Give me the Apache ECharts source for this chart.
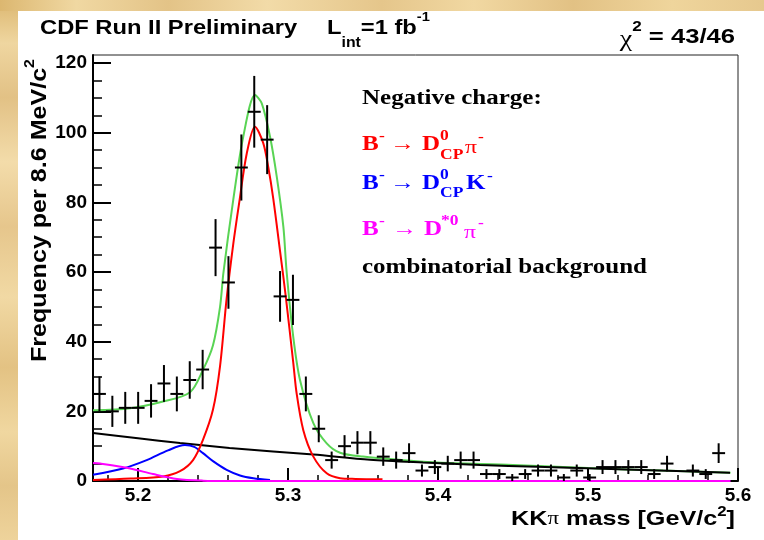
<!DOCTYPE html>
<html>
<head>
<meta charset="utf-8">
<script src="https://cdn.jsdelivr.net/npm/echarts@6/dist/echarts.min.js"></script>
<style>
  html, body { margin: 0; padding: 0; background: #ffffff; }
  #chart { width: 764px; height: 540px; }
</style>
</head>
<body>
<div id="chart"></div>
<script>
// Histogram binning: 50 bins of 8.6 MeV starting at 5.17 GeV
const BIN_START = 5.17;
const BIN_WIDTH = 0.0086;

// Candidates per bin
const counts = [25, 20, 21, 21, 23, 28, 25, 29, 32, 67,
                57, 90, 106, 98, 53, 52, 25, 15, 6, 10,
                11, 11, 7, 6, 8, 3, 4, 5, 6, 6,
                2, 2, 1, 2, 3, 3, 1, 3, 1, 4,
                4, 4, 4, 2, 5, 0, 3, 2, 8, 0];

// Fit components, sampled along the mass axis
const sigPiMass = [5.170, 5.195, 5.2167, 5.228, 5.2367, 5.2433, 5.250, 5.2547, 5.259, 5.2635,
                   5.2675, 5.2725, 5.278, 5.2835, 5.2869, 5.2902, 5.2947, 5.2985, 5.3035, 5.3058,
                   5.3102, 5.3169, 5.3258, 5.3347, 5.345, 5.363];
const sigPiFreq = [0.3, 0.7, 1.3, 2.8, 6.0, 11.8, 20.5, 33, 52, 68,
                   80, 94, 101.7, 97, 90, 81, 66, 53, 34, 25,
                   14.6, 7, 2.2, 0.8, 0.6, 0.5];

const sigKMass = [5.170, 5.190, 5.2058, 5.220, 5.2313, 5.2375, 5.2433, 5.250, 5.2591, 5.268, 5.2769, 5.288];
const sigKFreq = [1.8, 3.6, 6.0, 8.8, 10.3, 9.8, 8.0, 5.7, 3.2, 1.6, 0.8, 0.3];

const dstarMass = [5.170, 5.1747, 5.1947, 5.210, 5.226, 5.2433, 5.260, 5.595];
const dstarFreq = [5.2, 5.0, 3.6, 2.0, 0.6, 0.1, 0, 0];

const combMass = [5.170, 5.200, 5.228, 5.261, 5.290, 5.317, 5.3547, 5.390, 5.428, 5.466, 5.510, 5.5413, 5.5947];
const combFreq = [13.8, 12.3, 10.9, 9.5, 8.5, 7.6, 6.1, 5.3, 4.6, 4.1, 3.5, 3.1, 2.4];

const totalMass = [5.170, 5.1947, 5.2167, 5.2347, 5.2433, 5.250, 5.2547, 5.2569, 5.2635, 5.2702,
                   5.278, 5.2825, 5.288, 5.2925, 5.2969, 5.2991, 5.3035, 5.308, 5.3169, 5.3258,
                   5.3347, 5.350, 5.380, 5.400, 5.450, 5.500, 5.550, 5.595];
const totalFreq = [20.3, 20.9, 22.8, 25.5, 31.9, 39, 50, 59.6, 80.7, 98.9,
                   110.8, 108.4, 98.9, 87.4, 73, 60, 41.4, 29, 16.6, 10.8,
                   8.1, 7.0, 5.9, 5.3, 4.6, 3.7, 3.0, 2.4];

// Axis tick labels
const massTicks = [5.2, 5.3, 5.4, 5.5, 5.6];
const freqTicks = [0, 20, 40, 60, 80, 100, 120];

const MASS_MIN = 5.17, MASS_MAX = 5.6;
const FREQ_MIN = 0, FREQ_MAX = 122.3;

const massMinor = [];
for (let k = 0; k <= 21; k++) massMinor.push(+(5.18 + 0.02 * k).toFixed(2));
const freqMinor = [];
for (let k = 0; k <= 24; k++) freqMinor.push(5 * k);

const zip = (xs, ys) => xs.map((x, i) => [x, ys[i]]);

const binPoints = counts
  .map((n, i) => [BIN_START + (i + 0.5) * BIN_WIDTH, n, Math.sqrt(n)])
  .filter(p => p[1] > 0);

const SANS = '"Liberation Sans", Arial, Helvetica, sans-serif';
const SERIF = '"Liberation Serif", "Times New Roman", serif';

function curve(name, xs, ys, color, z) {
  return {
    name, type: 'line', data: zip(xs, ys), xAxisIndex: 0, yAxisIndex: 0,
    showSymbol: false, symbol: 'none', smooth: 0.3, clip: false, z,
    lineStyle: { color, width: 2 }, silent: true, animation: false
  };
}

const chart = echarts.init(document.getElementById('chart'), null, { renderer: 'canvas', width: 764, height: 540 });

const axisCommon = {
  type: 'value', splitLine: { show: false }, animation: false
};

const tickLabelStyle = { color: '#000', fontFamily: SANS, fontWeight: 'bold', fontSize: 19 };

// Parchment strips along the top and left edges
const parchmentV = new echarts.graphic.LinearGradient(0, 0, 0, 1, [
  { offset: 0.00, color: '#dcb770' }, { offset: 0.08, color: '#efd6a0' },
  { offset: 0.18, color: '#e2c185' }, { offset: 0.30, color: '#f3dcaa' },
  { offset: 0.42, color: '#e6c68c' }, { offset: 0.55, color: '#f1d9a4' },
  { offset: 0.68, color: '#e3c283' }, { offset: 0.80, color: '#f0d7a0' },
  { offset: 0.90, color: '#e4c589' }, { offset: 1.00, color: '#eed39b' }
]);
const parchmentH = new echarts.graphic.LinearGradient(0, 0, 1, 0, [
  { offset: 0.00, color: '#dcb770' }, { offset: 0.10, color: '#f0d8a2' },
  { offset: 0.22, color: '#e3c387' }, { offset: 0.35, color: '#f2dba8' },
  { offset: 0.50, color: '#e5c68b' }, { offset: 0.62, color: '#f1d8a2' },
  { offset: 0.75, color: '#e2c184' }, { offset: 0.88, color: '#efd59c' },
  { offset: 1.00, color: '#e6c88e' }
]);

const sup = (size, drop, family) => ({ fontSize: size, fontFamily: family || SANS, fontWeight: 'bold', verticalAlign: 'top', padding: [drop || 0, 0, 0, 0] });
const sub = (size, family) => ({ fontSize: size, fontFamily: family || SANS, fontWeight: 'bold', verticalAlign: 'bottom' });

function legendPiece(text, x, y, color, size, opts) {
  opts = opts || {};
  return {
    type: 'text', x, y, scaleX: 1.25, z: 10,
    style: {
      text, fill: color, align: 'left', verticalAlign: 'middle',
      font: (opts.weight || 'bold') + ' ' + size + 'px ' + (opts.family || SERIF)
    }
  };
}

const graphics = [
  { type: 'rect', shape: { x: 0, y: 0, width: 18, height: 540 }, style: { fill: parchmentV }, z: -10, silent: true },
  { type: 'rect', shape: { x: 0, y: 0, width: 764, height: 11 }, style: { fill: parchmentH }, z: -10, silent: true },

  // Header
  {
    type: 'text', x: 40, y: 28, scaleX: 1.13, z: 10,
    style: { text: 'CDF Run II Preliminary', fill: '#000', align: 'left', verticalAlign: 'middle', font: 'bold 21px ' + SANS }
  },
  {
    type: 'text', x: 327, y: 28, scaleX: 1.13, z: 10,
    style: {
      text: '{m|L}{s|int}{m|=1 fb}{p|-1}', align: 'left', verticalAlign: 'middle', fill: '#000',
      rich: {
        m: { fontSize: 21, fontFamily: SANS, fontWeight: 'bold', lineHeight: 44 },
        s: sub(14),
        p: sup(13, 5)
      }
    }
  },
  {
    type: 'text', x: 735, y: 37, scaleX: 1.22, z: 10,
    style: {
      text: '{g|\u03c7}{p|2}{m| = 43/46}', align: 'right', verticalAlign: 'middle', fill: '#000',
      rich: {
        m: { fontSize: 21, fontFamily: SANS, fontWeight: 'bold', lineHeight: 34 },
        g: { fontSize: 23, fontFamily: SERIF, lineHeight: 34, padding: [5, 0, 0, 0] },
        p: sup(14)
      }
    }
  },

  // Axis titles
  {
    type: 'text', x: 40, y: 362, rotation: Math.PI / 2, scaleX: 1.14, z: 10,
    style: {
      text: '{m|Frequency per 8.6 MeV/c}{p|2}', align: 'left', verticalAlign: 'middle', fill: '#000',
      rich: {
        m: { fontSize: 22, fontFamily: SANS, fontWeight: 'bold', lineHeight: 34 },
        p: sup(14)
      }
    }
  },
  {
    type: 'text', x: 735, y: 519, scaleX: 1.2, z: 10,
    style: {
      text: '{m|KK}{g|\u03c0}{m| mass [GeV/c}{p|2}{m|]}', align: 'right', verticalAlign: 'middle', fill: '#000',
      rich: {
        m: { fontSize: 21, fontFamily: SANS, fontWeight: 'bold', lineHeight: 34 },
        g: { fontSize: 19, fontFamily: SERIF, lineHeight: 34 },
        p: sup(14, 3)
      }
    }
  },

  // Legend block
  legendPiece('Negative charge:', 362, 99, '#000', 20),

  legendPiece('B', 362, 145, '#ff0000', 20),
  legendPiece('-', 379, 136, '#ff0000', 14),
  legendPiece('\u2192', 390, 145, '#ff0000', 20, { weight: 'normal' }),
  legendPiece('D', 422, 145, '#ff0000', 20),
  legendPiece('0', 440, 136, '#ff0000', 14),
  legendPiece('CP', 440, 155, '#ff0000', 14),
  legendPiece('\u03c0', 465, 148, '#ff0000', 19, { weight: 'normal' }),
  legendPiece('-', 478, 137, '#ff0000', 14),

  legendPiece('B', 362, 184, '#0000ff', 20),
  legendPiece('-', 379, 175, '#0000ff', 14),
  legendPiece('\u2192', 390, 184, '#0000ff', 20, { weight: 'normal' }),
  legendPiece('D', 422, 184, '#0000ff', 20),
  legendPiece('0', 440, 175, '#0000ff', 14),
  legendPiece('CP', 440, 193, '#0000ff', 14),
  legendPiece('K', 466, 184, '#0000ff', 20),
  legendPiece('-', 487, 176, '#0000ff', 14),

  legendPiece('B', 362, 230, '#ff00ff', 20),
  legendPiece('-', 379, 221, '#ff00ff', 14),
  legendPiece('\u2192', 392, 230, '#ff00ff', 20, { weight: 'normal' }),
  legendPiece('D', 424, 230, '#ff00ff', 20),
  legendPiece('*0', 441, 221, '#ff00ff', 14),
  legendPiece('\u03c0', 464, 233, '#ff00ff', 19, { weight: 'normal' }),
  legendPiece('-', 478, 223, '#ff00ff', 14),

  legendPiece('combinatorial background', 362, 268, '#000', 20)
];

const option = {
  backgroundColor: '#ffffff',
  animation: false,
  grid: {
    left: 93, right: 26, top: 55, bottom: 59,
    show: true, borderColor: '#222', borderWidth: 1, backgroundColor: 'transparent'
  },
  xAxis: [
    Object.assign({}, axisCommon, {
      min: MASS_MIN, max: MASS_MAX, position: 'bottom',
      axisLine: { show: true, onZero: false, lineStyle: { color: '#000', width: 2 } },
      axisTick: { show: true, inside: true, length: 13, customValues: massTicks, lineStyle: { color: '#000', width: 2 } },
      axisLabel: Object.assign({ show: true, margin: 5, customValues: massTicks, formatter: v => v.toFixed(1) }, tickLabelStyle)
    }),
    Object.assign({}, axisCommon, {
      min: MASS_MIN, max: MASS_MAX, position: 'bottom',
      axisLine: { show: false },
      axisTick: { show: true, inside: true, length: 6, customValues: massMinor, lineStyle: { color: '#000', width: 1.5 } },
      axisLabel: { show: false }
    })
  ],
  yAxis: [
    Object.assign({}, axisCommon, {
      min: FREQ_MIN, max: FREQ_MAX, position: 'left',
      axisLine: { show: true, onZero: false, lineStyle: { color: '#000', width: 2 } },
      axisTick: { show: true, inside: true, length: 18, customValues: freqTicks, lineStyle: { color: '#000', width: 2 } },
      axisLabel: Object.assign({ show: true, margin: 6, customValues: freqTicks, formatter: v => String(v) }, tickLabelStyle)
    }),
    Object.assign({}, axisCommon, {
      min: FREQ_MIN, max: FREQ_MAX, position: 'left',
      axisLine: { show: false },
      axisTick: { show: true, inside: true, length: 9, customValues: freqMinor, lineStyle: { color: '#000', width: 1.5 } },
      axisLabel: { show: false }
    })
  ],
  series: [
    curve('total', totalMass, totalFreq, '#59d454', 2),
    curve('combinatorial background', combMass, combFreq, '#000000', 3),
    curve('D0CP K', sigKMass, sigKFreq, '#0000ff', 4),
    curve('D0CP pi', sigPiMass, sigPiFreq, '#ff0000', 4),
    curve('D*0 pi', dstarMass, dstarFreq, '#ff00ff', 5),
    {
      name: 'data', type: 'custom', xAxisIndex: 0, yAxisIndex: 0, clip: false, z: 6, silent: true,
      data: binPoints,
      renderItem(params, api) {
        const x = api.value(0), y = api.value(1), e = api.value(2);
        const c = api.coord([x, y]);
        const top = api.coord([x, y + e]);
        const bot = api.coord([x, y - e]);
        const lft = api.coord([x - BIN_WIDTH / 2, y]);
        const rgt = api.coord([x + BIN_WIDTH / 2, y]);
        const st = { stroke: '#000', lineWidth: 2 };
        return {
          type: 'group',
          children: [
            { type: 'line', shape: { x1: c[0], y1: top[1], x2: c[0], y2: bot[1] }, style: st },
            { type: 'line', shape: { x1: lft[0], y1: c[1], x2: rgt[0], y2: c[1] }, style: st }
          ]
        };
      }
    }
  ],
  graphic: { elements: graphics }
};

chart.setOption(option);
</script>
</body>
</html>
